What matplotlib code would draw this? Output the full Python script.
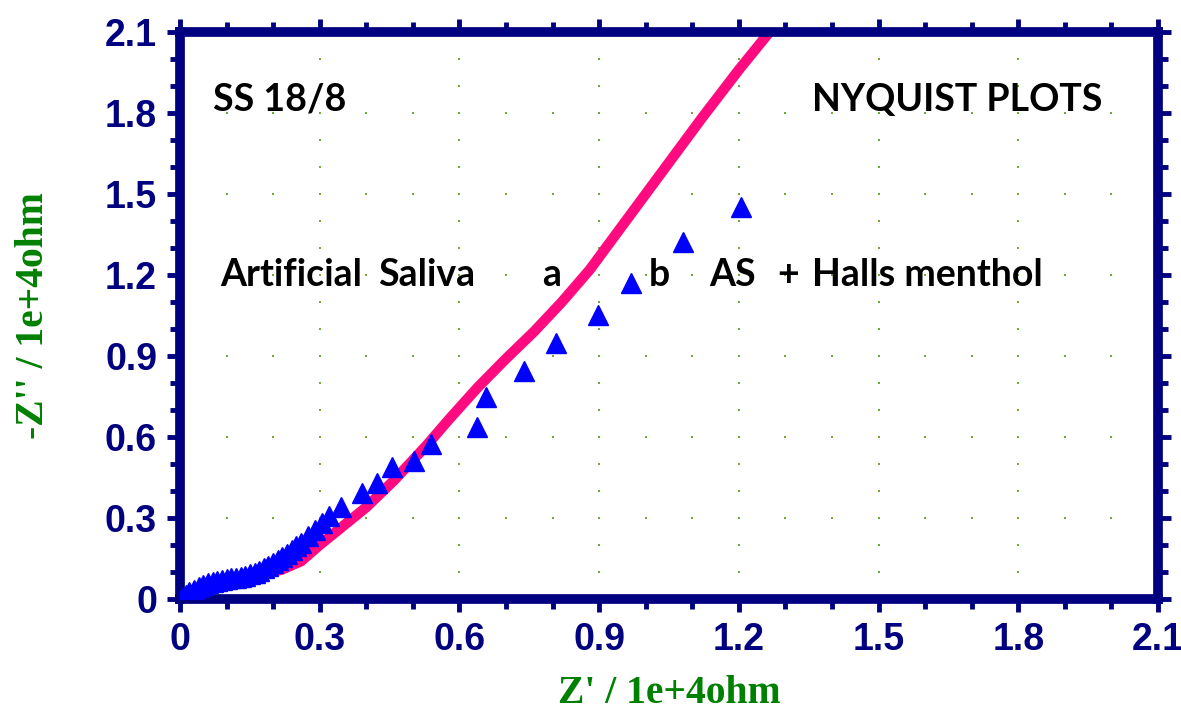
import matplotlib
matplotlib.use("Agg")
import matplotlib.pyplot as plt
import numpy as np

# pink curve (Artificial Saliva, a)
zr_a = [0.0, 0.03, 0.07, 0.12, 0.18, 0.22, 0.26, 0.30, 0.35, 0.40, 0.46, 0.53,
        0.58, 0.64, 0.70, 0.76, 0.82, 0.88, 0.94, 1.00, 1.06, 1.12, 1.20, 1.28]
zi_a = [0.0, 0.03, 0.055, 0.075, 0.09, 0.11, 0.14, 0.20, 0.27, 0.34, 0.44, 0.57,
        0.67, 0.785, 0.89, 0.99, 1.10, 1.22, 1.36, 1.50, 1.64, 1.78, 1.96, 2.13]

# blue triangles (b, AS + Halls menthol)
zr_b = [0.005, 0.012, 0.02, 0.03, 0.04, 0.05, 0.06, 0.07, 0.08, 0.09, 0.10, 0.11,
        0.12, 0.13, 0.14, 0.15, 0.16, 0.17, 0.18, 0.19, 0.20, 0.21, 0.22, 0.23,
        0.24, 0.25, 0.26, 0.275, 0.29, 0.305, 0.32, 0.345, 0.39, 0.422, 0.456,
        0.503, 0.538, 0.637, 0.656, 0.738, 0.807, 0.897, 0.968, 1.079, 1.205]
zi_b = [0.005, 0.015, 0.025, 0.035, 0.045, 0.052, 0.058, 0.063, 0.067, 0.07, 0.073, 0.076,
        0.079, 0.083, 0.087, 0.092, 0.098, 0.105, 0.113, 0.122, 0.132, 0.143, 0.155, 0.168,
        0.181, 0.195, 0.209, 0.232, 0.256, 0.282, 0.308, 0.34, 0.393, 0.43, 0.489,
        0.511, 0.574, 0.637, 0.748, 0.844, 0.948, 1.052, 1.170, 1.322, 1.452]

major = [0, 0.3, 0.6, 0.9, 1.2, 1.5, 1.8, 2.1]
major_labels = ["0", "0.3", "0.6", "0.9", "1.2", "1.5", "1.8", "2.1"]
minor = np.round(np.arange(0, 2.11, 0.1), 2)

navy = "#000080"
fig = plt.figure(figsize=(11.81, 7.15), dpi=100)
ax = fig.add_axes([180 / 1181, 1 - 599 / 715, 978 / 1181, 567 / 715])

# dotted grid: dots every 0.1 along the major lines
gx, gy = [], []
for m in major[1:-1]:
    for t in minor:
        gx += [m, t]
        gy += [t, m]
ax.scatter(gx, gy, s=2, color="#72a83a", marker="s", linewidths=0, zorder=1)

ax.plot(zr_a, zi_a, color="#ff0a7f", lw=7.5, solid_capstyle="round", zorder=2)
ax.plot(zr_b, zi_b, "^", color="#0000ff", ms=15, mec="#0000ff", zorder=3)

ax.set_xlim(0, 2.1)
ax.set_ylim(0, 2.1)
ax.set_xticks(major)
ax.set_xticklabels(major_labels)
ax.set_yticks(major)
ax.set_yticklabels(major_labels)
ax.set_xticks(minor, minor=True)
ax.set_yticks(minor, minor=True)
ax.tick_params(which="both", direction="out", color=navy, top=True, right=True,
               labelcolor=navy, labelsize=27, width=3.5)
ax.tick_params(which="major", length=9.5, pad=7)
ax.tick_params(which="minor", length=7)
for lab in ax.get_xticklabels() + ax.get_yticklabels():
    lab.set_fontweight("bold")
    lab.set_family("Liberation Sans")
for sp in ax.spines.values():
    sp.set_color(navy)
    sp.set_linewidth(7)

ax.set_xlabel("Z' / 1e+4ohm", family="Liberation Serif", fontweight="bold",
              color="#008000", fontsize=28.5, labelpad=12)
ax.set_ylabel("-Z'' / 1e+4ohm", family="Liberation Serif", fontweight="bold",
              color="#008000", fontsize=28.5, labelpad=38)

tk = dict(family="Lato", fontweight="bold", fontsize=27, color="black", va="center")
ax.text(0.071, 1.85, "SS 18/8", **tk)
ax.text(1.358, 1.85, "NYQUIST PLOTS", **tk)
ax.text(0.086, 1.2, "Artificial", **tk)
ax.text(0.426, 1.2, "Saliva", **tk)
ax.text(0.777, 1.2, "a", **tk)
ax.text(1.007, 1.2, "b", **tk)
ax.text(1.136, 1.2, "AS", **tk)
ax.text(1.282, 1.2, "+", **tk)
ax.text(1.356, 1.2, "Halls menthol", **tk)

fig.savefig("out.png", dpi=100)
